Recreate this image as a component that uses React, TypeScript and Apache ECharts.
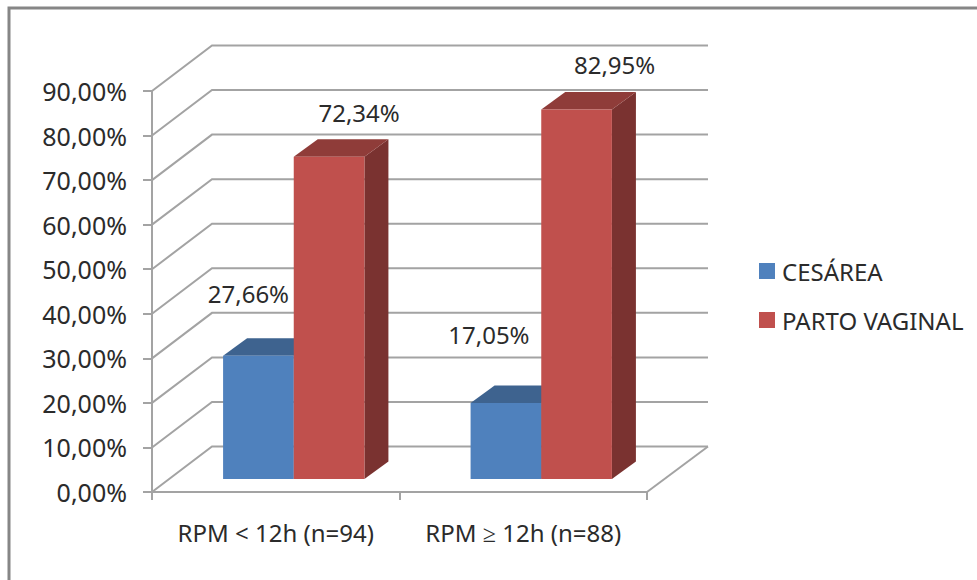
import React, { useEffect, useRef } from "react";
import * as echarts from "echarts";

const categories = ["RPM < 12h (n=94)", "RPM ≥ 12h (n=88)"];
const cesarea = [27.66, 17.05];
const partoVaginal = [72.34, 82.95];
const yTicks = [0, 10, 20, 30, 40, 50, 60, 70, 80, 90];

const FONT = "Noto Sans";
const TEXT = "#2b2b2b";
const GRID = "#a3a3a3";

// Oblique projection of the chart box and of the bars standing on its floor.
const WALL_DX = 60;
const WALL_DY = -45.5;
const BAR_INSET_DX = 18;
const BAR_INSET_DY = -13;
const BAR_DEPTH_DX = 24;
const BAR_DEPTH_DY = -17.5;
const BAR_BAND_RATIO = 0.2855;

// Hand-placed data labels, relative to the top centre of each bar's front face.
const cesareaLabelShift = [[-10, -62], [-17, -69]];
const partoLabelShift = [[30, -44], [38, -45]];

const percent = (v: number) => v.toFixed(2).replace(".", ",") + "%";

function barRenderer(side: -1 | 0, shifts: number[][], front: string, top: string, flank: string) {
  return (params: any, api: any) => {
    const cat = api.value(0);
    const val = api.value(1);
    const base = api.coord([cat, 0]);
    const head = api.coord([cat, val]);
    const w = api.size([1, 0])[0] * BAR_BAND_RATIO;
    const x0 = base[0] + BAR_INSET_DX + side * w;
    const x1 = x0 + w;
    const yb = base[1] + BAR_INSET_DY;
    const yt = head[1] + BAR_INSET_DY;
    const shift = shifts[params.dataIndex];
    return {
      type: "group",
      children: [
        {
          type: "polygon",
          shape: { points: [[x1, yb], [x1 + BAR_DEPTH_DX, yb + BAR_DEPTH_DY], [x1 + BAR_DEPTH_DX, yt + BAR_DEPTH_DY], [x1, yt]] },
          style: { fill: flank },
        },
        {
          type: "polygon",
          shape: { points: [[x0, yt], [x0 + BAR_DEPTH_DX, yt + BAR_DEPTH_DY], [x1 + BAR_DEPTH_DX, yt + BAR_DEPTH_DY], [x1, yt]] },
          style: { fill: top },
        },
        { type: "rect", shape: { x: x0, y: yt, width: w, height: yb - yt }, style: { fill: front } },
        {
          type: "text",
          x: (x0 + x1) / 2 + shift[0],
          y: yt + shift[1],
          style: {
            text: percent(val),
            font: `24px "${FONT}"`,
            fill: TEXT,
            textAlign: "center",
            textVerticalAlign: "middle",
          },
        },
      ],
    };
  };
}

function wallRenderer(params: any, api: any) {
  const tick = api.value(0);
  const y = api.coord([0, tick])[1];
  const { x, width } = params.coordSys;
  const style = { stroke: GRID, lineWidth: 2, fill: "none" };
  const backRight = x + width + WALL_DX + 1;
  const children: any[] = [
    {
      type: "polyline",
      shape: { points: [[x, y], [x + WALL_DX, y + WALL_DY], [backRight, y + WALL_DY]] },
      style,
    },
  ];
  if (tick === 0) {
    children.push({
      type: "line",
      shape: { x1: x + width, y1: y, x2: backRight, y2: y + WALL_DY },
      style,
    });
  }
  return { type: "group", children };
}

export default function App() {
  const ref = useRef<HTMLDivElement>(null);

  useEffect(() => {
    const chart = echarts.init(ref.current!, undefined, { renderer: "svg" });
    chart.setOption({
      animation: false,
      backgroundColor: "#ffffff",
      grid: { left: 152, top: 91, width: 495, height: 401 },
      textStyle: { fontFamily: FONT },
      xAxis: {
        type: "category",
        data: categories,
        axisLine: { lineStyle: { color: GRID, width: 2 } },
        axisTick: { show: true, alignWithLabel: false, interval: 0, length: 8, lineStyle: { color: GRID, width: 2 } },
        axisLabel: { color: TEXT, fontFamily: FONT, fontSize: 24, margin: 28, interval: 0, hideOverlap: false },
      },
      yAxis: {
        type: "value",
        min: 0,
        max: 90,
        interval: 10,
        splitLine: { show: false },
        axisLine: { show: true, lineStyle: { color: GRID, width: 2 } },
        axisTick: { show: true, length: 9, lineStyle: { color: GRID, width: 2 } },
        axisLabel: { color: TEXT, fontFamily: FONT, fontSize: 25, margin: 25, formatter: percent },
      },
      legend: {
        orient: "vertical",
        left: 759,
        top: 259,
        padding: 0,
        icon: "rect",
        itemWidth: 16,
        itemHeight: 16,
        itemGap: 25,
        data: ["CESÁREA", "PARTO VAGINAL"],
        textStyle: { color: TEXT, fontFamily: FONT, fontSize: 24, padding: [0, 0, 0, 2] },
      },
      graphic: [
        {
          type: "polyline",
          shape: { points: [[9, 580], [9, 8], [977, 8]] },
          style: { stroke: "#868686", lineWidth: 3, fill: "none" },
        },
      ],
      series: [
        {
          type: "custom",
          name: "walls",
          silent: true,
          data: yTicks.map((t) => [t]),
          encode: { y: 0 },
          renderItem: wallRenderer,
          z: 1,
        },
        {
          type: "custom",
          name: "CESÁREA",
          itemStyle: { color: "#4f81bd" },
          data: cesarea.map((v, i) => [i, v]),
          encode: { x: 0, y: 1 },
          renderItem: barRenderer(-1, cesareaLabelShift, "#4f81bd", "#3e638f", "#3a5d87"),
          z: 2,
        },
        {
          type: "custom",
          name: "PARTO VAGINAL",
          itemStyle: { color: "#c0504d" },
          data: partoVaginal.map((v, i) => [i, v]),
          encode: { x: 0, y: 1 },
          renderItem: barRenderer(0, partoLabelShift, "#c0504d", "#8f3c39", "#7a3230"),
          z: 3,
        },
      ],
    });
    return () => chart.dispose();
  }, []);

  return <div ref={ref} style={{ position: "absolute", left: 0, top: 0, width: 977, height: 580 }} />;
}
